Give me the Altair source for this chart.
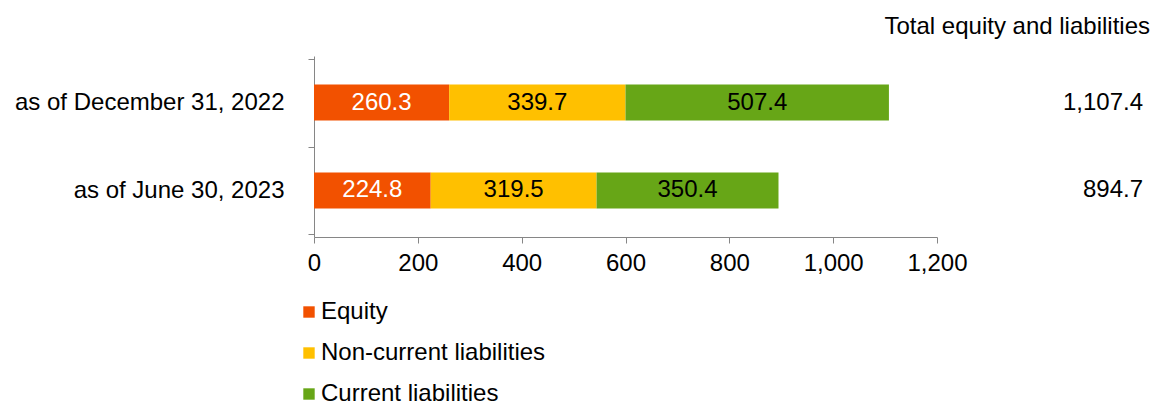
import altair as alt
import pandas as pd

categories = ["as of December 31, 2022", "as of June 30, 2023"]
series = ["Equity", "Non-current liabilities", "Current liabilities"]
equity = [260.3, 224.8]
noncurrent = [339.7, 319.5]
current = [507.4, 350.4]
totals = [1107.4, 894.7]
colors = ["#F25100", "#FFC000", "#67A617"]
label_colors = ["#FFFFFF", "#000000", "#000000"]
x_ticks = [0, 200, 400, 600, 800, 1000, 1200]

rows = []
for si, (name, vals) in enumerate(zip(series, [equity, noncurrent, current])):
    for ci, cat in enumerate(categories):
        rows.append({"cat": cat, "series": name, "value": vals[ci],
                     "order": si, "lc": label_colors[si]})
df = pd.DataFrame(rows)
tot = pd.DataFrame({"cat": categories, "total": totals})
hdr = pd.DataFrame({"t": ["Total equity and liabilities"]})

FONT = "Liberation Sans"
FS = 24

y_enc = alt.Y("cat:N", sort=categories, title=None,
              scale=alt.Scale(paddingInner=0, paddingOuter=0.03),
              axis=alt.Axis(tickBand="extent", labelFontSize=FS, labelFont=FONT,
                            labelColor="#000", tickSize=6, labelPadding=24,
                            domainColor="#868686", tickColor="#868686", labelLimit=500))

bars = alt.Chart(df).mark_bar(size=36).encode(
    x=alt.X("value:Q", stack="zero", title=None,
            scale=alt.Scale(domain=[0, 1200], nice=False),
            axis=alt.Axis(values=x_ticks, format=",.0f", grid=False, labelFontSize=FS,
                          labelFont=FONT, labelColor="#000", tickSize=6, labelFlush=False,
                          labelPadding=8, domainColor="#868686", tickColor="#868686")),
    y=y_enc,
    color=alt.Color("series:N", sort=series,
                    scale=alt.Scale(domain=series, range=colors),
                    legend=alt.Legend(title=None, orient="none", legendX=-17, legendY=244,
                                      direction="vertical", symbolType="square",
                                      symbolSize=130, symbolStrokeWidth=0,
                                      labelFontSize=FS, labelFont=FONT, labelColor="#000",
                                      labelLimit=500, rowPadding=17, labelOffset=0)),
    order=alt.Order("order:Q"),
)

texts = alt.Chart(df).transform_window(
    cum="sum(value)", groupby=["cat"], sort=[alt.SortField("order")]
).transform_calculate(
    mid="datum.cum - datum.value / 2"
).mark_text(fontSize=FS, font=FONT, align="center", baseline="middle").encode(
    x=alt.X("mid:Q"),
    y=alt.Y("cat:N", sort=categories),
    text=alt.Text("value:Q", format=".1f"),
    color=alt.Color("lc:N", scale=None),
)

tot_text = alt.Chart(tot).mark_text(fontSize=FS, font=FONT, align="right",
                                    baseline="middle", color="#000").encode(
    x=alt.value(829),
    y=alt.Y("cat:N", sort=categories),
    text=alt.Text("total:Q", format=",.1f"),
)

hdr_text = alt.Chart(hdr).mark_text(fontSize=FS, font=FONT, align="right",
                                    baseline="middle", color="#000").encode(
    x=alt.value(836), y=alt.value(-29), text="t:N")

chart = alt.layer(bars, texts, tot_text, hdr_text).properties(
    width=623, height=181,
    autosize=alt.AutoSizeParams(type="none"),
    padding={"left": 314, "top": 56, "right": 218, "bottom": 168},
).configure_view(stroke=None)

chart.save("out.html", embed_options={"renderer": "svg", "actions": False})
